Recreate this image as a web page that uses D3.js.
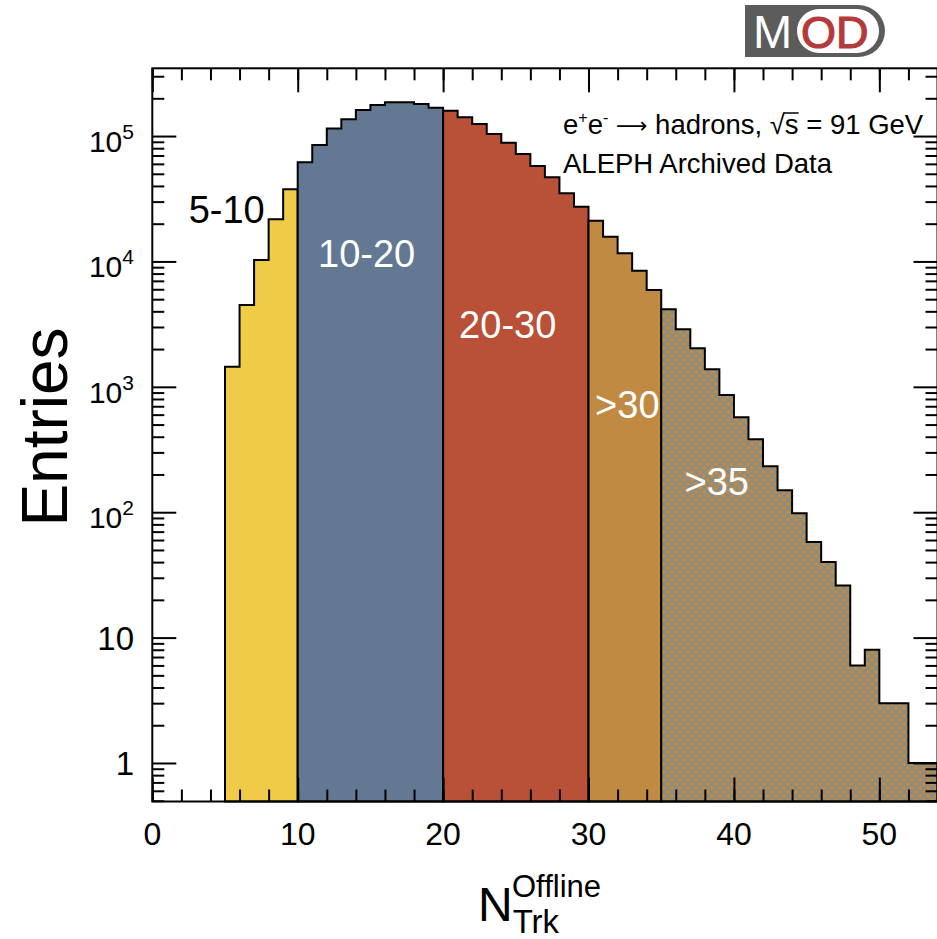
<!DOCTYPE html>
<html>
<head>
<meta charset="utf-8">
<script src="https://cdn.jsdelivr.net/npm/d3@7"></script>
<style>
  body { margin: 0; background: #fff; }
  svg text { font-family: "Liberation Sans", Arial, Helvetica, sans-serif; }
</style>
</head>
<body>
<script>
// --- Daten ---
// Anzahl Einträge pro Bin (Breite 1), erster Bin beginnt bei N = 5
var firstBin = 5;
var counts = [
  1445, 4490, 10260, 21700, 37600,                                     // 5-10
  61700, 84700, 115000, 136000, 161000, 177000, 186000, 186000, 180000, 168000, // 10-20
  159000, 141000, 125000, 104000, 88500, 71800, 57600, 46900, 34900, 27300,     // 20-30
  21100, 15700, 11600, 8430, 5920,                                     // 30-35
  4150, 2875, 2030, 1380, 860, 571, 381, 233, 150, 98, 58, 40, 26, 6, 8, 3, 3, 1, 1 // 35-54
];
// Gruppen (Multiplizitätsklassen)
var groupLabels = ["5-10", "10-20", "20-30", ">30", ">35"];
var groupEdges = [5, 10, 20, 30, 35, 54];
// Achsenbeschriftungen
var xTickLabels = [0, 10, 20, 30, 40, 50];
var yTickExponents = [0, 1, 2, 3, 4, 5];

// --- Stil ---
var groupColors = ["#efcb48", "#627893", "#b85137", "#c08a43", "url(#hatch)"];
var labelColors = ["#000", "#fff", "#fff", "#fff", "#fff"];
// Position der Gruppenbeschriftung in Datenkoordinaten (x, Einträge)
var labelAnchor = [[2.5, 20200], [11.4, 9000], [21.1, 2450], [30.45, 564], [36.6, 137]];

var width = 937, height = 939;
var frame = {left: 152.3, right: 937.5, top: 68.3, bottom: 801.5};

var xScale = d3.scaleLinear()
  .domain([0, 54])
  .range([frame.left, frame.right]);

var yScale = d3.scaleLog()
  .domain([0.493, 3.47e5])
  .range([frame.bottom, frame.top]);

var svg = d3.select("body").append("svg")
  .attr("width", width)
  .attr("height", height);

// Schraffur für >35 (orange Rauten auf grauem Gitter)
var pat = svg.append("defs").append("pattern")
  .attr("id", "hatch")
  .attr("patternUnits", "userSpaceOnUse")
  .attr("width", 8).attr("height", 8);
pat.append("rect").attr("width", 8).attr("height", 8).attr("fill", "#c18b45");
pat.append("path")
  .attr("d", "M-2,-2L10,10M10,-2L-2,10")
  .attr("stroke", "#8d8c7e")
  .attr("stroke-width", 2.2);

// Bins als Objekte
var bins = counts.map(function (c, i) { return {x: firstBin + i, v: c}; });

// Flächen pro Gruppe (Stufenfunktion)
var area = d3.area()
  .curve(d3.curveStepAfter)
  .x(function (d) { return xScale(d.x); })
  .y0(frame.bottom)
  .y1(function (d) { return yScale(d.v); });

groupLabels.forEach(function (lab, g) {
  var sub = bins.filter(function (d) { return d.x >= groupEdges[g] && d.x < groupEdges[g + 1]; });
  var pts = sub.concat([{x: groupEdges[g + 1], v: sub[sub.length - 1].v}]);
  svg.append("path")
    .datum(pts)
    .attr("d", area)
    .attr("fill", groupColors[g])
    .attr("stroke", "#000")
    .attr("stroke-width", 2)
    .attr("stroke-linejoin", "miter");
});

// Gruppenbeschriftungen
svg.selectAll(".glabel")
  .data(groupLabels)
  .enter().append("text")
  .attr("class", "glabel")
  .attr("x", function (d, i) { return xScale(labelAnchor[i][0]); })
  .attr("y", function (d, i) { return yScale(labelAnchor[i][1]); })
  .attr("fill", function (d, i) { return labelColors[i]; })
  .attr("font-size", 38)
  .text(function (d) { return d; });

// --- Achsen (Ticks nach innen, ROOT-Stil) ---
function styleAxis(g) {
  g.select(".domain").remove();
  g.selectAll(".tick line").attr("stroke", "#000").attr("stroke-width", 2);
  g.selectAll(".tick text").remove();
}
var minorX = d3.range(0, 55, 2);
svg.append("g").attr("transform", "translate(0," + frame.bottom + ")")
  .call(d3.axisBottom(xScale).tickValues(minorX).tickSize(-12)).call(styleAxis);
svg.append("g").attr("transform", "translate(0," + frame.bottom + ")")
  .call(d3.axisBottom(xScale).tickValues(xTickLabels).tickSize(-24)).call(styleAxis);
svg.append("g").attr("transform", "translate(0," + frame.top + ")")
  .call(d3.axisTop(xScale).tickValues(minorX).tickSize(-12)).call(styleAxis);
svg.append("g").attr("transform", "translate(0," + frame.top + ")")
  .call(d3.axisTop(xScale).tickValues(xTickLabels).tickSize(-24)).call(styleAxis);

var majorY = yTickExponents.map(function (e) { return Math.pow(10, e); });
var minorY = yScale.ticks().filter(function (t) { return majorY.indexOf(t) < 0; });
[[d3.axisLeft, frame.left], [d3.axisRight, frame.right]].forEach(function (a) {
  svg.append("g").attr("transform", "translate(" + a[1] + ",0)")
    .call(a[0](yScale).tickValues(minorY).tickSize(-12)).call(styleAxis);
  svg.append("g").attr("transform", "translate(" + a[1] + ",0)")
    .call(a[0](yScale).tickValues(majorY).tickSize(-24)).call(styleAxis);
});

// Rahmen
svg.append("rect")
  .attr("x", frame.left).attr("y", frame.top)
  .attr("width", frame.right - frame.left)
  .attr("height", frame.bottom - frame.top)
  .attr("fill", "none").attr("stroke", "#000").attr("stroke-width", 2);

// x-Beschriftungen
svg.selectAll(".xlab")
  .data(xTickLabels)
  .enter().append("text")
  .attr("x", function (d) { return xScale(d); })
  .attr("y", 845)
  .attr("text-anchor", "middle")
  .attr("font-size", 32)
  .text(function (d) { return d; });

// y-Beschriftungen (10^n)
var ylab = svg.selectAll(".ylab")
  .data(yTickExponents)
  .enter().append("text")
  .attr("x", 134)
  .attr("y", function (d) { return yScale(Math.pow(10, d)) + (d < 2 ? 12 : 16); })
  .attr("text-anchor", "end")
  .attr("font-size", function (d) { return d < 2 ? 33 : 30; });
ylab.append("tspan").text(function (d) { return d === 0 ? "1" : "10"; });
ylab.filter(function (d) { return d >= 2; })
  .append("tspan")
  .attr("font-size", 21)
  .attr("dy", -13)
  .text(function (d) { return d; });

// Achsentitel
svg.append("text")
  .attr("transform", "translate(67,427) rotate(-90)")
  .attr("text-anchor", "middle")
  .attr("font-size", 64)
  .text("Entries");

var xt = svg.append("text").attr("x", 478).attr("y", 921).attr("font-size", 48);
xt.append("tspan").text("N");
xt.append("tspan").attr("font-size", 33).attr("dy", 12).text("Trk");
xt.append("tspan").attr("font-size", 31).attr("x", 512).attr("y", 897).text("Offline");

// Beschreibung
var fs = 27.5;
var t1 = svg.append("text").attr("x", 563).attr("y", 134).attr("font-size", fs);
t1.append("tspan").text("e");
t1.append("tspan").attr("font-size", 16).attr("dy", -11).text("+");
t1.append("tspan").attr("dy", 11).text("e");
t1.append("tspan").attr("font-size", 16).attr("dy", -11).text("-");
t1.append("tspan").attr("dy", 11).text(" ");
t1.append("tspan").attr("font-family", "DejaVu Sans").attr("font-size", 22).attr("dy", -1).text("\u27F6");
t1.append("tspan").attr("dy", 1).text(" hadrons, \u221A");
t1.append("tspan").text("s");
t1.append("tspan").text(" = 91 GeV");

// Überstrich über dem s
var node = t1.node();
var si = node.textContent.indexOf("\u221As") + 1;
var p0 = node.getStartPositionOfChar(si), p1 = node.getEndPositionOfChar(si);
svg.append("line")
  .attr("x1", p0.x - 1).attr("x2", p1.x)
  .attr("y1", 134 - 21).attr("y2", 134 - 21)
  .attr("stroke", "#000").attr("stroke-width", 1.5);

svg.append("text").attr("x", 563).attr("y", 172.7).attr("font-size", fs)
  .text("ALEPH Archived Data");

// MOD-Logo
var logo = svg.append("g");
logo.append("path")
  .attr("d", "M745,5H858A27,26 0 0 1 858,57H745Z")
  .attr("fill", "#5c5c5c");
logo.append("rect")
  .attr("x", 797).attr("y", 9).attr("width", 82).attr("height", 44)
  .attr("rx", 22).attr("fill", "#fff");
logo.append("text").attr("x", 753).attr("y", 48).attr("font-size", 47)
  .attr("fill", "#fff").text("M");
logo.append("text").attr("x", 801).attr("y", 48).attr("font-size", 45)
  .attr("fill", "#b43a3c").attr("stroke", "#b43a3c").attr("stroke-width", 1.2)
  .text("OD");
</script>
</body>
</html>
